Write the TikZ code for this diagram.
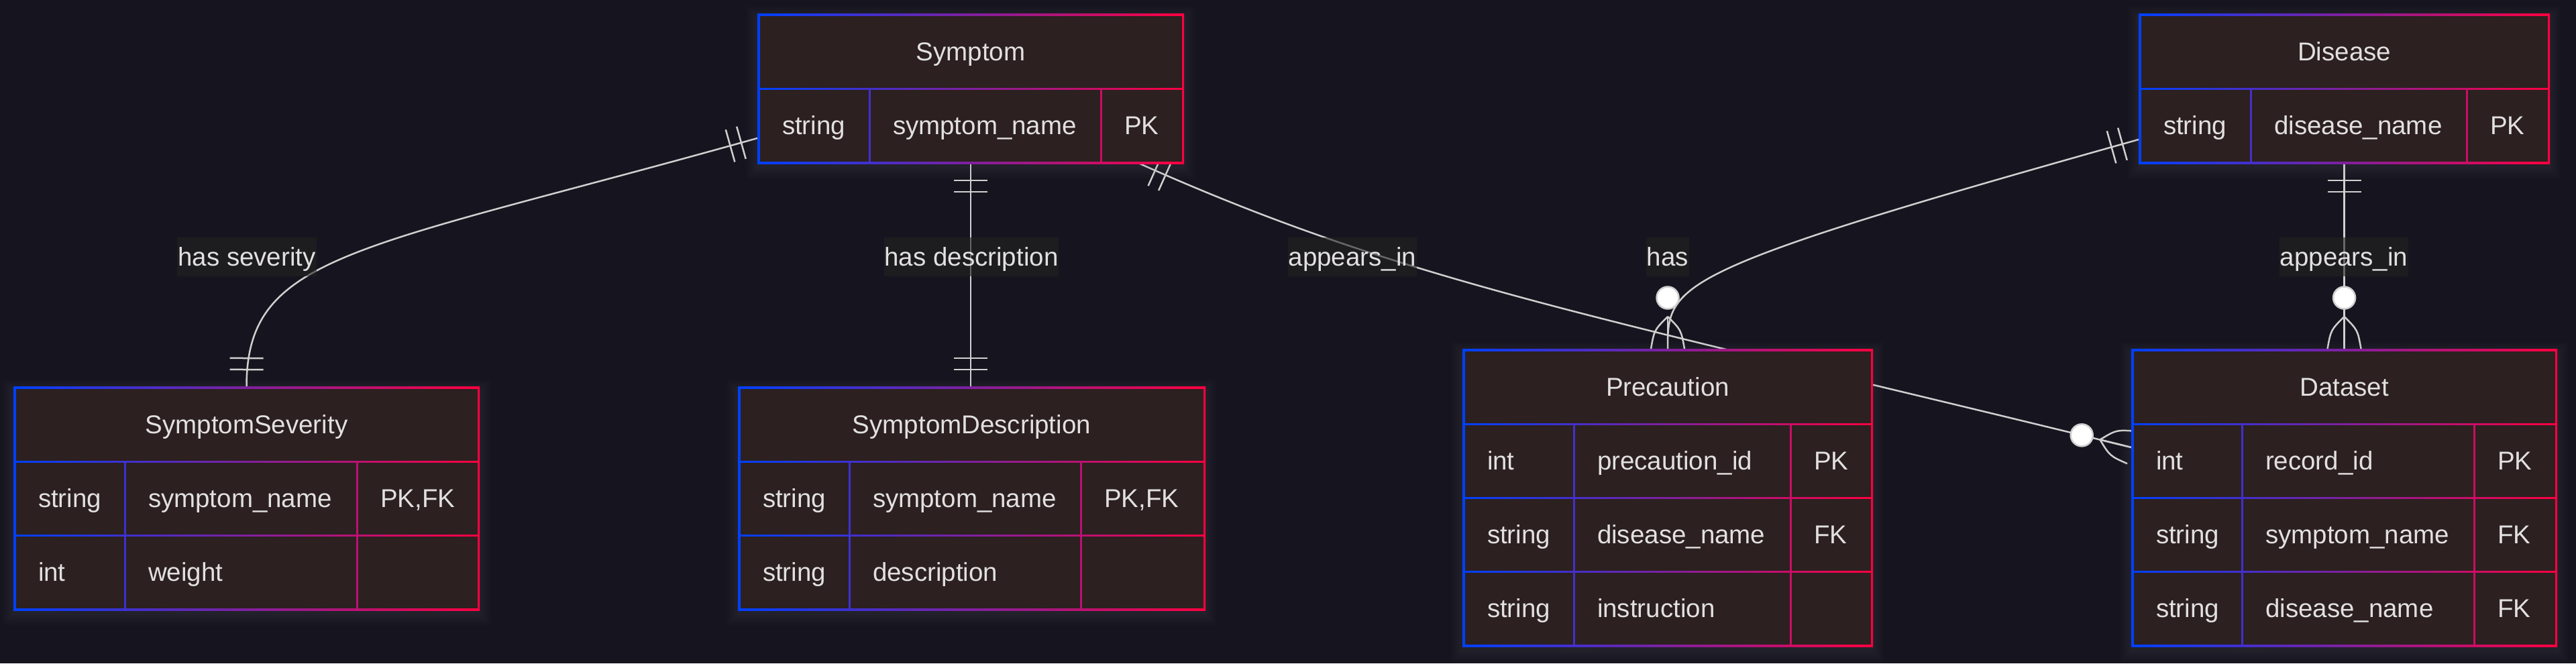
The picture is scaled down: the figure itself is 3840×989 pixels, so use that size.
\documentclass[tikz,border=0pt]{standalone}
\usepackage{fontspec}
\setmainfont{Liberation Sans}
\usetikzlibrary{calc}
\pgfdeclarelayer{back}
\pgfdeclarelayer{conn}
\pgfsetlayers{back,conn,main}
\definecolor{bgc}{RGB}{22,21,31}
\definecolor{boxfill}{RGB}{44,32,32}
\definecolor{txt}{RGB}{226,224,224}
\definecolor{linec}{RGB}{208,208,208}
\definecolor{eblue}{RGB}{0,64,255}
\definecolor{ered}{RGB}{255,0,64}
\definecolor{lblbg}{RGB}{34,33,32}
\definecolor{glowc}{RGB}{120,120,135}
\tikzset{
  ebox/.style={inner sep=0pt, outer sep=0pt, anchor=north west, left color=eblue, right color=ered},
  cellfill/.style={fill=boxfill},
  attr/.style={inner sep=0pt, outer sep=0pt, anchor=west, text=txt, text height=27.6pt, text depth=0pt},
  ttl/.style={attr, anchor=center},
  rel/.style={draw=linec, line width=2.5pt},
  lbl/.style={fill=lblbg, fill opacity=0.6, text opacity=1, text=txt, inner xsep=1pt, inner ysep=0pt, minimum height=58pt, text height=27.6pt, text depth=0pt},
}
\newcommand{\erBox}[6]{%
  \foreach \gi in {1,...,6}{\fill[glowc, opacity=0.025] (#2-3*\gi,#3-3*\gi+6) rectangle (#4+3*\gi,#5+3*\gi+6);}
  \node[ebox, minimum width={#4-#2+4}, minimum height={#5-#3+4}] (#1) at (#2-2,#3-2) {};
  \fill[cellfill] (#2+1.5,#3+1.5) rectangle (#4-1.5,#3+108.5);
  \node[ttl] (#1-title) at ({(#2+#4)/2},#3+55) {#6};
}
\newcommand{\erRow}[9]{%
  \fill[cellfill] (#2+1.5,#6+1.5) rectangle (#3-1.5,#6+108.5);
  \fill[cellfill] (#3+1.5,#6+1.5) rectangle (#4-1.5,#6+108.5);
  \fill[cellfill] (#4+1.5,#6+1.5) rectangle (#5-1.5,#6+108.5);
  \node[attr] (#1-t) at (#2+35,#6+55) {#7};
  \node[attr] (#1-n) at (#3+35,#6+55) {#8};
  \node[attr] (#1-k) at (#4+35,#6+55) {#9};
}
\newcommand{\erOne}[3]{%
  \coordinate (mk) at ($(#1)!#3!(#2)$);
  \draw[rel] ($(mk)!25pt!90:(#2)$) -- ($(mk)!25pt!-90:(#2)$);
}
\newcommand{\erOnlyOne}[2]{\erOne{#1}{#2}{25pt}\erOne{#1}{#2}{42pt}}
\newcommand{\erMany}[2]{%
  \coordinate (mkA) at ($(#1)!48pt!(#2)$);
  \coordinate (mkM) at ($(#1)!28pt!(#2)$);
  \draw[rel] (mkA) -- (#1);
  \draw[rel] (mkA) .. controls ($(mkM)!20pt!90:(#2)$) .. ($(#1)!25pt!90:(#2)$);
  \draw[rel] (mkA) .. controls ($(mkM)!20pt!-90:(#2)$) .. ($(#1)!25pt!-90:(#2)$);
  \draw[rel, fill=white] ($(#1)!76pt!(#2)$) circle[radius=16.5pt];
}
\begin{document}
\begin{tikzpicture}[x=1pt, y=-1pt, font=\fontsize{38.5pt}{46pt}\selectfont]
\useasboundingbox (0,0) rectangle (3840,989);
\begin{pgfonlayer}{back}
  \fill[bgc] (0,0) rectangle (3840,989);
\end{pgfonlayer}

% Entities
\erBox{symptom}{1131}{22}{1763}{242}{Symptom}
\erRow{symptom-r1}{1131}{1296}{1641}{1763}{132}{string}{symptom\_name}{PK}

\erBox{disease}{3190}{22}{3799}{242}{Disease}
\erRow{disease-r1}{3190}{3355}{3677}{3799}{132}{string}{disease\_name}{PK}

\erBox{sseverity}{22}{578}{713}{908}{SymptomSeverity}
\erRow{sseverity-r1}{22}{186}{532}{713}{688}{string}{symptom\_name}{PK,FK}
\erRow{sseverity-r2}{22}{186}{532}{713}{798}{int}{weight}{}

\erBox{sdesc}{1102}{578}{1795}{908}{SymptomDescription}
\erRow{sdesc-r1}{1102}{1266}{1611}{1795}{688}{string}{symptom\_name}{PK,FK}
\erRow{sdesc-r2}{1102}{1266}{1611}{1795}{798}{string}{description}{}

\erBox{precaution}{2182}{522}{2790}{962}{Precaution}
\erRow{precaution-r1}{2182}{2346}{2669}{2790}{632}{int}{precaution\_id}{PK}
\erRow{precaution-r2}{2182}{2346}{2669}{2790}{742}{string}{disease\_name}{FK}
\erRow{precaution-r3}{2182}{2346}{2669}{2790}{852}{string}{instruction}{}

\erBox{dataset}{3179}{522}{3810}{962}{Dataset}
\erRow{dataset-r1}{3179}{3342}{3688}{3810}{632}{int}{record\_id}{PK}
\erRow{dataset-r2}{3179}{3342}{3688}{3810}{742}{string}{symptom\_name}{FK}
\erRow{dataset-r3}{3179}{3342}{3688}{3810}{852}{string}{disease\_name}{FK}

% Connectors
\begin{pgfonlayer}{conn}
  \coordinate (ya) at (0,206);
  \coordinate (yb) at (0,208);
  \coordinate (yc) at (0,667);
  \coordinate (xa) at (1699,0);

  % Symptom -- SymptomSeverity
  \coordinate (c1s) at (symptom.west |- ya);
  \coordinate (c1t) at (sseverity.north);
  \coordinate (c1a) at (531,374);
  \coordinate (c1b) at (368,377);
  \draw[rel] (c1s) .. controls (c1a) and (c1b) .. (c1t);
  \erOnlyOne{c1s}{c1a}
  \erOnlyOne{c1t}{c1b}

  % Symptom -- SymptomDescription
  \coordinate (c2s) at (symptom.south);
  \coordinate (c2t) at (symptom.south |- sdesc.north);
  \draw[rel] (c2s) -- (c2t);
  \erOnlyOne{c2s}{c2t}
  \erOnlyOne{c2t}{c2s}

  % Symptom -- Dataset
  \coordinate (c3s) at (symptom.south -| xa);
  \coordinate (c3t) at (dataset.west |- yc);
  \coordinate (c3a) at (2099,423);
  \coordinate (c3b) at (2379,471);
  \draw[rel] (c3s) .. controls (c3a) and (c3b) .. (c3t);
  \erOnlyOne{c3s}{c3a}
  \erMany{c3t}{c3b}

  % Disease -- Precaution
  \coordinate (c4s) at (disease.west |- yb);
  \coordinate (c4t) at (precaution.north);
  \coordinate (c4a) at (2489,404);
  \coordinate (c4b) at (2486,422);
  \draw[rel] (c4s) .. controls (c4a) and (c4b) .. (c4t);
  \erOnlyOne{c4s}{c4a}
  \erMany{c4t}{c4b}

  % Disease -- Dataset
  \coordinate (c5s) at (disease.south);
  \coordinate (c5t) at (disease.south |- dataset.north);
  \draw[rel] (c5s) -- (c5t);
  \erOnlyOne{c5s}{c5t}
  \erMany{c5t}{c5s}

  % Labels
  \node[lbl] (l1) at (368,383) {has severity};
  \node[lbl] (l2) at (1448,383) {has description};
  \node[lbl] (l3) at (2016,383) {appears\_in};
  \node[lbl] (l4) at (2486,383) {has};
  \node[lbl] (l5) at (3494,383) {appears\_in};
\end{pgfonlayer}
\end{tikzpicture}
\end{document}
